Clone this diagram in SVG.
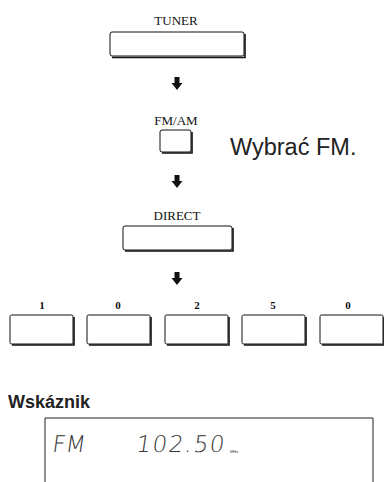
<svg xmlns="http://www.w3.org/2000/svg" width="384" height="482" viewBox="0 0 384 482">
<style>
.lbl{font-family:"Liberation Serif","Times New Roman",serif;font-size:13px;fill:#111;text-anchor:middle}
.dig{font-family:"Liberation Serif","Times New Roman",serif;font-size:11px;font-weight:bold;fill:#111;text-anchor:middle}
.btn{fill:#fff;stroke:#111;stroke-width:1}
.sh{fill:none;stroke:#111;stroke-width:1.6}
.arr{fill:#111}
.lcd{font-family:"DejaVu Sans","Liberation Sans",sans-serif;font-weight:200;fill:#333}
</style>
<defs>
<path id="ar" d="M-2.5,0 H2.5 V6 H5.5 L0,13 L-5.5,6 H-2.5 Z"/>
</defs>
<rect width="384" height="482" fill="#fff"/>
<g id="tuner">
<text class="lbl" x="176" y="25">TUNER</text>
<rect class="btn" x="110" y="32" width="134" height="24" rx="2"/>
<path class="sh" d="M245,34 V57.5 H112"/>
</g>
<g id="fmam">
<text class="lbl" x="176" y="125">FM/AM</text>
<rect class="btn" x="160" y="130" width="31" height="22" rx="2"/>
<path class="sh" d="M192,132 V153 H162"/>
<text x="230" y="155" font-family="Liberation Sans, Arial, sans-serif" font-size="23.5" fill="#222">Wybrać FM.</text>
</g>
<g id="direct">
<text class="lbl" x="177" y="220">DIRECT</text>
<rect class="btn" x="123" y="226" width="109" height="24" rx="2"/>
<path class="sh" d="M233,228 V251 H125"/>
</g>
<g id="d1"><text class="dig" x="42" y="309">1</text><rect class="btn" x="10" y="315" width="63" height="29" rx="1.5"/><path class="sh" d="M74,317 V345 H12"/></g>
<g id="d2"><text class="dig" x="118" y="309">0</text><rect class="btn" x="87" y="315" width="63" height="29" rx="1.5"/><path class="sh" d="M151,317 V345 H89"/></g>
<g id="d3"><text class="dig" x="197" y="309">2</text><rect class="btn" x="165" y="315" width="63" height="29" rx="1.5"/><path class="sh" d="M229,317 V345 H167"/></g>
<g id="d4"><text class="dig" x="273" y="309">5</text><rect class="btn" x="242" y="315" width="63" height="29" rx="1.5"/><path class="sh" d="M306,317 V345 H244"/></g>
<g id="d5"><text class="dig" x="348" y="309">0</text><rect class="btn" x="320" y="315" width="63" height="29" rx="1.5"/><path class="sh" d="M384,317 V345 H322"/></g>
<g id="connectors">
<use href="#ar" class="arr" x="177" y="77"/>
<use href="#ar" class="arr" x="177" y="175"/>
<use href="#ar" class="arr" x="177" y="272"/>
</g>
<g id="indicator">
<text x="8" y="408" font-family="Liberation Sans, Arial, sans-serif" font-size="18" font-weight="bold" fill="#222">Wskáznik</text>
<path d="M45,482 V418 H373 V482" fill="none" stroke="#222" stroke-width="1"/>
<text class="lcd" x="52" y="452" font-size="23" transform="skewX(-8) translate(63,0)">FM</text>
<text class="lcd" x="136" y="452" font-size="23" letter-spacing="1.5" transform="skewX(-8) translate(63,0)">102.50</text>
<text x="230" y="453" font-family="Liberation Sans, Arial, sans-serif" font-size="4" fill="#333">MHz</text>
</g>
</svg>
